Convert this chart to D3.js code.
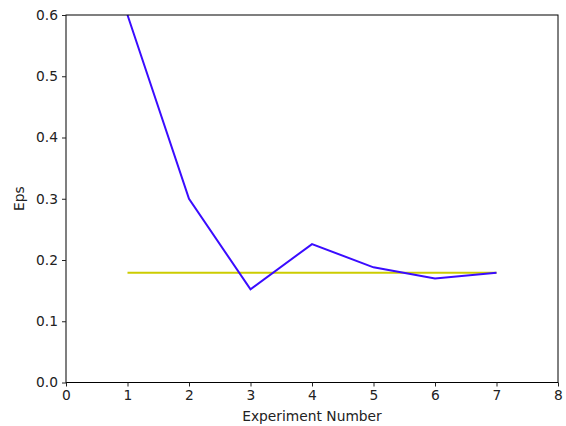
<!DOCTYPE html>
<html><head><meta charset="utf-8">
<script src="https://cdn.jsdelivr.net/npm/d3@7"></script>
<style>body{margin:0;background:#fff;} svg{display:block;} text{font-family:"DejaVu Sans",sans-serif;}</style>
</head><body>
<script>
const experiments = [1, 2, 3, 4, 5, 6, 7];
const epsValues = [0.6, 0.3, 0.152, 0.226, 0.188, 0.17, 0.179];
const baselineValue = 0.179;
const xTicks = [0, 1, 2, 3, 4, 5, 6, 7, 8];
const yTicks = [0.0, 0.1, 0.2, 0.3, 0.4, 0.5, 0.6];

const W = 566, H = 426;
const m = {left: 66, right: 8, top: 15, bottom: 43.5};
const svg = d3.select("body").append("svg").attr("width", W).attr("height", H);
const x = d3.scaleLinear().domain([0, 8]).range([m.left, W - m.right]);
const y = d3.scaleLinear().domain([0, 0.6]).range([H - m.bottom, m.top]);

const line = d3.line().x(d => x(d[0])).y(d => y(d[1]));
svg.append("path").datum(experiments.map(e => [e, baselineValue]))
  .attr("d", line).attr("fill", "none").attr("stroke", "#cccc00").attr("stroke-width", 2);
svg.append("path").datum(experiments.map((e, i) => [e, epsValues[i]]))
  .attr("d", line).attr("fill", "none").attr("stroke", "#3a0cff").attr("stroke-width", 2)
  .attr("stroke-linejoin", "miter");

svg.append("rect").attr("x", m.left).attr("y", m.top)
  .attr("width", W - m.right - m.left).attr("height", H - m.bottom - m.top)
  .attr("fill", "none").attr("stroke", "#000").attr("stroke-width", 1);

const xa = svg.append("g").attr("transform", `translate(0,${H - m.bottom})`)
  .call(d3.axisBottom(x).tickValues(xTicks).tickFormat(d3.format("d")).tickSize(4).tickPadding(4));
const ya = svg.append("g").attr("transform", `translate(${m.left},0)`)
  .call(d3.axisLeft(y).tickValues(yTicks).tickFormat(d3.format(".1f")).tickSize(4).tickPadding(4));
[xa, ya].forEach(a => {
  a.select(".domain").remove();
  a.selectAll("text").attr("font-size", 13.8).attr("fill", "#222").attr("font-family", "DejaVu Sans");
  a.selectAll("line").attr("stroke", "#222");
});

svg.append("text").attr("x", (m.left + W - m.right) / 2).attr("y", 421)
  .attr("text-anchor", "middle").attr("font-size", 13.8).attr("fill", "#222").text("Experiment Number");
svg.append("text").attr("transform", `translate(24,${(m.top + H - m.bottom) / 2}) rotate(-90)`)
  .attr("text-anchor", "middle").attr("font-size", 13.8).attr("fill", "#222").text("Eps");
</script>
</body></html>
